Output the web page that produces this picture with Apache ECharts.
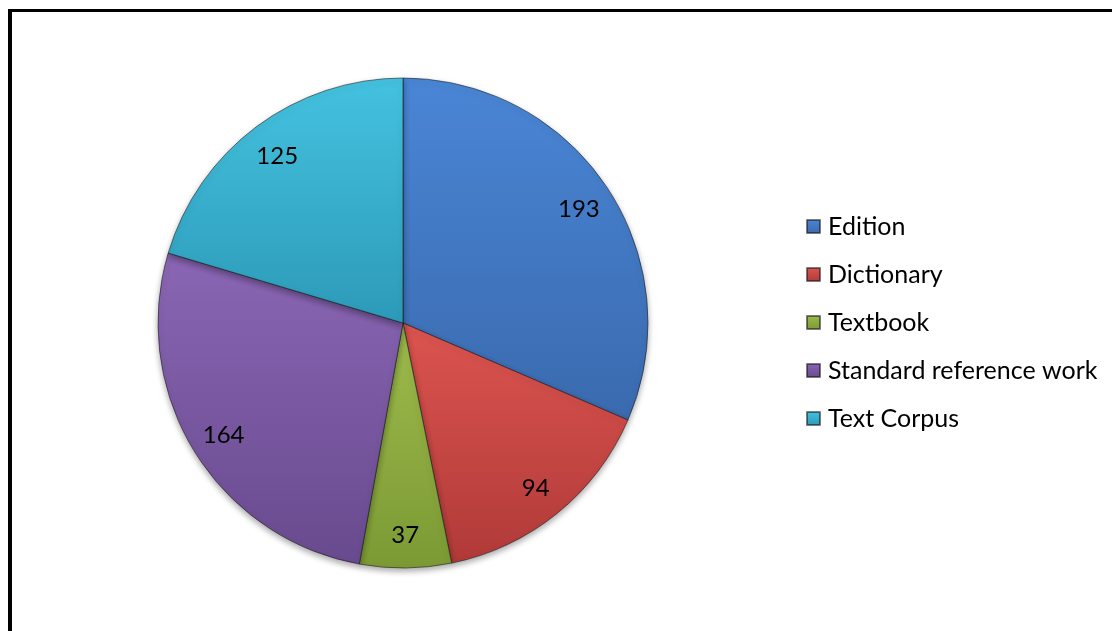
<!DOCTYPE html>
<html>
<head>
<meta charset="utf-8">
<script src="https://cdn.jsdelivr.net/npm/echarts@6/dist/echarts.min.js"></script>
<style>
  html, body { margin: 0; padding: 0; background: #fff; }
  #frame {
    position: absolute; left: 8px; top: 9px;
    width: 1120px; height: 640px;
    border-left: 4px solid #000; border-top: 3px solid #000;
    box-sizing: border-box;
  }
  #chart { position: absolute; left: 0; top: 0; width: 1112px; height: 631px; }
</style>
</head>
<body>
<div id="frame"></div>
<div id="chart"></div>
<script>
  // categories and values
  var categories = ['Edition', 'Dictionary', 'Textbook', 'Standard reference work', 'Text Corpus'];
  var values = [193, 94, 37, 164, 125];
  // top (light) / bottom (dark) colour of each slice
  var topColors = ['#4a86d6', '#dc5450', '#9dbb4c', '#8a66b4', '#44c2e0'];
  var bottomColors = ['#3a6aae', '#b03a38', '#7c9a34', '#684a8e', '#2c9ab8'];

  var chart = echarts.init(document.getElementById('chart'));

  var pieData = categories.map(function (name, i) {
    return {
      name: name,
      value: values[i],
      itemStyle: {
        color: new echarts.graphic.LinearGradient(0, 0, 0, 1, [
          {offset: 0, color: topColors[i]},
          {offset: 1, color: bottomColors[i]}
        ])
      }
    };
  });

  // transparent ring only used to put the labels near the rim
  var labelData = categories.map(function (name, i) {
    return {name: name, value: values[i]};
  });

  var option = {
    animation: false,
    color: topColors,
    legend: {
      orient: 'vertical',
      left: 806,
      top: 214,
      padding: 0,
      itemWidth: 13,
      itemHeight: 13,
      itemGap: 23,
      icon: 'rect',
      textStyle: {
        fontFamily: 'Lato',
        fontSize: 25,
        lineHeight: 25,
        color: '#000',
        padding: [0, 0, 0, 3]
      },
      data: categories
    },
    series: [
      {
        name: 'pie',
        type: 'pie',
        center: [403, 323],
        radius: [0, 245],
        startAngle: 90,
        clockwise: true,
        silent: true,
        label: {show: false},
        labelLine: {show: false},
        itemStyle: {
          borderColor: 'rgba(20,20,20,0.55)',
          borderWidth: 1,
          shadowColor: 'rgba(0,0,0,0.35)',
          shadowBlur: 6,
          shadowOffsetY: 3
        },
        data: pieData
      },
      {
        name: 'labels',
        type: 'pie',
        center: [403, 325],
        radius: [170, 245],
        startAngle: 90,
        clockwise: true,
        silent: true,
        legendHoverLink: false,
        itemStyle: {color: 'rgba(0,0,0,0)'},
        label: {
          show: true,
          position: 'inside',
          formatter: '{c}',
          fontFamily: 'Lato',
          fontSize: 24,
          color: '#000'
        },
        labelLine: {show: false},
        data: labelData
      }
    ]
  };

  chart.setOption(option);
</script>
</body>
</html>
